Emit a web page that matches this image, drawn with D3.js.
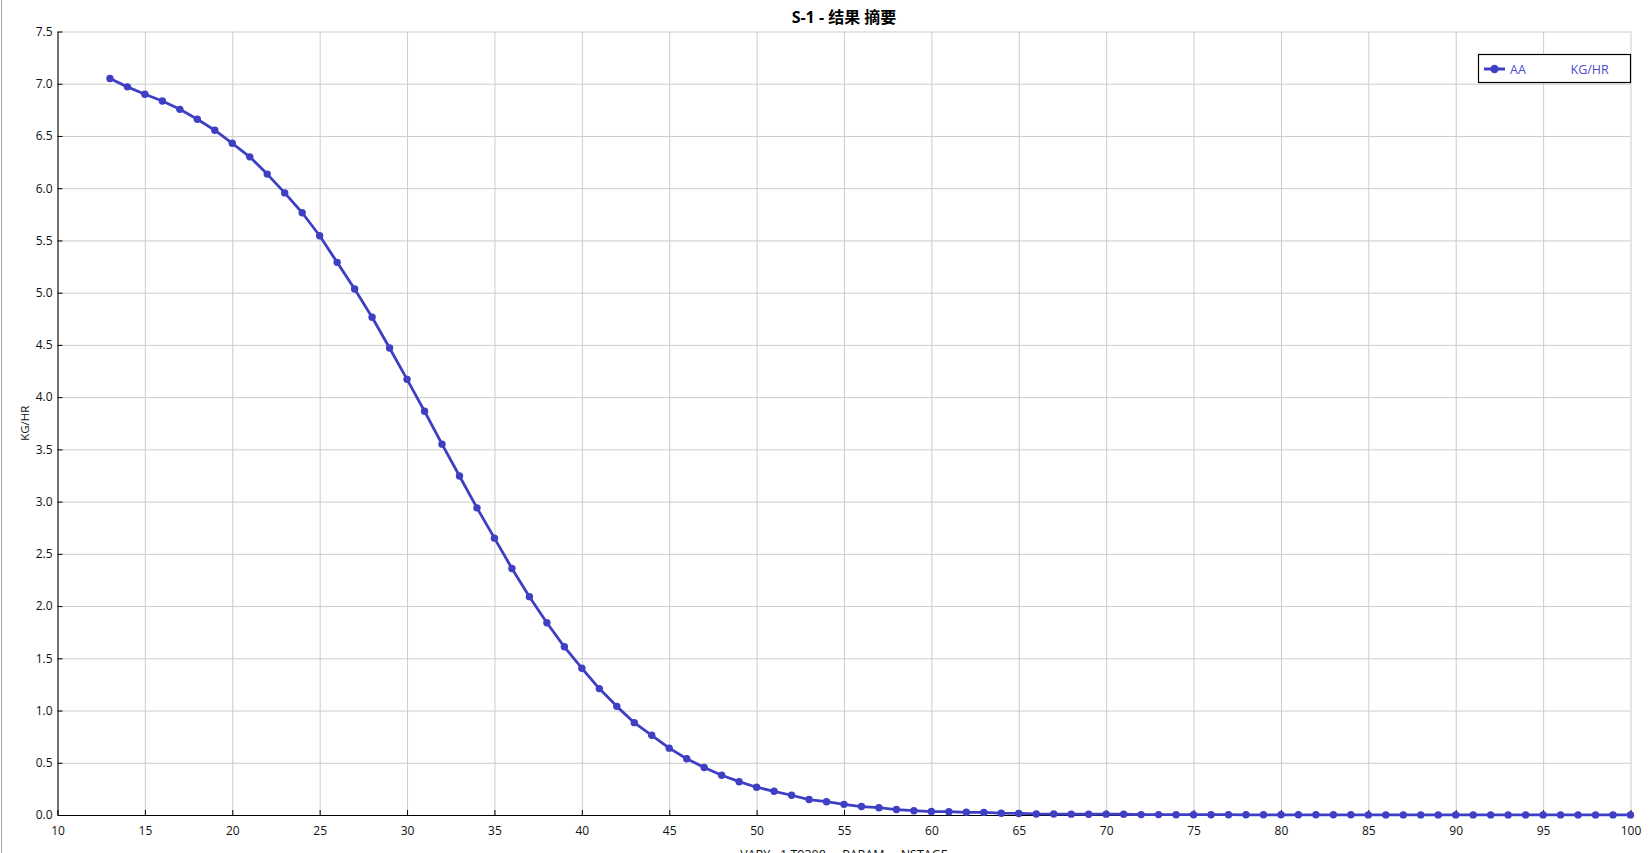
<!DOCTYPE html>
<html>
<head>
<meta charset="utf-8">
<script src="https://cdn.jsdelivr.net/npm/d3@7"></script>
<style>
  html, body { margin: 0; padding: 0; background: #fff; overflow: hidden; }
  svg { display: block; font-family: "Open Sans", "Noto Sans", "Noto Sans CJK SC", sans-serif; }
</style>
</head>
<body>
<svg id="chart" width="1652" height="853"></svg>
<script>
const titleText = "S-1 - 结果 摘要";
const xLabel = "VARY   1 T0308     PARAM     NSTAGE";
const yLabel = "KG/HR";
const seriesName = "AA";
const seriesUnit = "KG/HR";

const stages = [13,14,15,16,17,18,19,20,21,22,23,24,25,26,27,28,29,30,31,32,33,34,35,36,37,38,39,40,
  41,42,43,44,45,46,47,48,49,50,51,52,53,54,55,56,57,58,59,60,61,62,63,64,65,66,67,68,69,70,
  71,72,73,74,75,76,77,78,79,80,81,82,83,84,85,86,87,88,89,90,91,92,93,94,95,96,97,98,99,100];
const flows = [7.05,6.97,6.90,6.835,6.755,6.66,6.555,6.43,6.30,6.135,5.955,5.765,5.545,5.29,5.035,4.765,
  4.47,4.17,3.865,3.55,3.245,2.94,2.65,2.36,2.09,1.84,1.61,1.405,1.21,1.04,0.884,0.763,0.64,0.539,
  0.455,0.38,0.319,0.266,0.227,0.189,0.148,0.127,0.102,0.081,0.07,0.052,0.041,0.033,0.032,0.026,
  0.025,0.017,0.015,0.010,0.009,0.008,0.007,0.008,0.007,0.004,0.004,0.003,0.003,0.003,0.003,0.002,
  0.002,0.002,0.002,0.002,0.002,0.002,0.001,0.001,0.001,0.001,0.001,0.001,0.001,0.001,0.001,0.001,
  0.001,0.001,0.001,0.001,0.001,0.001];
const xTicks = [10,15,20,25,30,35,40,45,50,55,60,65,70,75,80,85,90,95,100];
const yTicks = [0.0,0.5,1.0,1.5,2.0,2.5,3.0,3.5,4.0,4.5,5.0,5.5,6.0,6.5,7.0,7.5];

const data = stages.map((s, i) => ({ x: s, y: flows[i] }));

const svg = d3.select("#chart");
const pL = 57.5, pR = 1630.5, pT = 31.5, pB = 815;
const color = "#3f3fc4";

const x = d3.scaleLinear().domain([10, 100]).range([pL, pR]);
const y = d3.scaleLinear().domain([0, 7.5]).range([pB, pT]);

// window border line at left
svg.append("line").attr("x1", 1.5).attr("x2", 1.5).attr("y1", 0).attr("y2", 853)
  .attr("stroke", "#a8a8a8").attr("stroke-width", 1);

// grid
const gx = svg.append("g").attr("transform", `translate(0,${pB})`)
  .call(d3.axisBottom(x).tickValues(xTicks).tickSize(-(pB - pT)).tickFormat(""));
gx.select(".domain").remove();
gx.selectAll("line").attr("stroke", "#cccccc");
const gy = svg.append("g").attr("transform", `translate(${pL},0)`)
  .call(d3.axisLeft(y).tickValues(yTicks).tickSize(-(pR - pL)).tickFormat(""));
gy.select(".domain").remove();
gy.selectAll("line").attr("stroke", "#cccccc");

// axes
const ax = svg.append("g").attr("transform", `translate(0,${pB})`)
  .call(d3.axisBottom(x).tickValues(xTicks).tickSizeInner(-5).tickSizeOuter(0).tickPadding(11).tickFormat(d3.format("d")));
ax.select(".domain").attr("stroke", "#000");
ax.selectAll("text").attr("font-size", 12).attr("fill", "#111")
  .attr("font-family", "'Open Sans', 'Noto Sans', sans-serif");

const ay = svg.append("g").attr("transform", `translate(${pL},0)`)
  .call(d3.axisLeft(y).tickValues(yTicks).tickSizeInner(-5).tickSizeOuter(0).tickPadding(5).tickFormat(d3.format(".1f")));
ay.select(".domain").attr("stroke", "#000");
ay.selectAll("text").attr("font-size", 12).attr("fill", "#111")
  .attr("font-family", "'Open Sans', 'Noto Sans', sans-serif");

// line
svg.append("path").datum(data)
  .attr("fill", "none").attr("stroke", color).attr("stroke-width", 2.8)
  .attr("stroke-linejoin", "round")
  .attr("d", d3.line().x(d => x(d.x)).y(d => y(d.y)));

svg.append("g").selectAll("circle").data(data).join("circle")
  .attr("cx", d => x(d.x)).attr("cy", d => y(d.y)).attr("r", 3.7).attr("fill", color);

// title
svg.append("text").attr("x", (pL + pR) / 2).attr("y", 23)
  .attr("text-anchor", "middle").attr("font-size", 16).attr("font-weight", "bold")
  .attr("fill", "#000").text(titleText);

// axis labels
svg.append("text").attr("x", (pL + pR) / 2).attr("y", 858.5)
  .attr("text-anchor", "middle").attr("font-size", 12.5).attr("fill", "#111")
  .style("white-space", "pre").attr("xml:space", "preserve").text(xLabel);

svg.append("text").attr("transform", `translate(29,${(pT + pB) / 2}) rotate(-90)`)
  .attr("text-anchor", "middle").attr("font-size", 11.5).attr("fill", "#111").text(yLabel);

// legend
const lg = svg.append("g");
lg.append("rect").attr("x", 1478.5).attr("y", 54.5).attr("width", 152).attr("height", 28)
  .attr("fill", "#fff").attr("stroke", "#000").attr("stroke-width", 1.2);
lg.append("line").attr("x1", 1484).attr("x2", 1505).attr("y1", 69).attr("y2", 69)
  .attr("stroke", color).attr("stroke-width", 3);
lg.append("circle").attr("cx", 1494.5).attr("cy", 69).attr("r", 4.2).attr("fill", color);
lg.append("text").attr("x", 1510).attr("y", 73.5).attr("font-size", 12.5).attr("fill", "#4a4ad0").text(seriesName);
lg.append("text").attr("x", 1570.5).attr("y", 73.5).attr("font-size", 12.5).attr("fill", "#4a4ad0").text(seriesUnit);
</script>
</body>
</html>
